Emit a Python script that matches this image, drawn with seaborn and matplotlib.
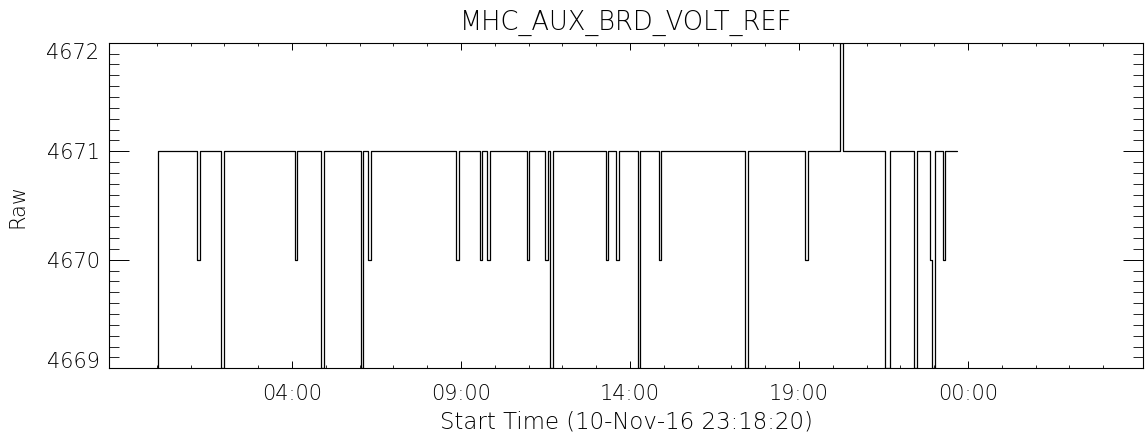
import matplotlib
matplotlib.use("Agg")
import matplotlib.pyplot as plt
import seaborn as sns
import pandas as pd
import numpy as np
from matplotlib.ticker import FixedLocator

# ---- data (hours after 00:00, value that takes effect at that time) ----
times = [0.00, 0.036, 1.204, 1.278, 1.914, 1.988, 4.098, 4.163, 4.873, 4.947,
         6.041, 6.109, 6.257, 6.337, 8.852, 8.932, 9.553, 9.630, 9.778, 9.858,
         10.944, 11.021, 11.494, 11.565, 11.648, 11.722, 13.281, 13.358, 13.595, 13.675,
         14.228, 14.305, 14.849, 14.926, 17.417, 17.491, 19.178, 19.266, 20.213, 20.293,
         21.544, 21.692, 22.402, 22.482, 22.876, 22.944, 23.024, 23.251, 23.328, 23.666]
values = [4669, 4671, 4670, 4671, 4669, 4671, 4670, 4671, 4669, 4671,
          4669, 4671, 4670, 4671, 4670, 4671, 4670, 4671, 4670, 4671,
          4670, 4671, 4670, 4671, 4669, 4671, 4670, 4671, 4670, 4671,
          4669, 4671, 4670, 4671, 4669, 4671, 4670, 4671, 4672, 4671,
          4669, 4671, 4669, 4671, 4670, 4669, 4671, 4670, 4671, 4671]

xtick_pos = [4, 9, 14, 19, 24]
xtick_labels = ["04:00", "09:00", "14:00", "19:00", "00:00"]
ytick_pos = [4669, 4670, 4671, 4672]
title = "MHC_AUX_BRD_VOLT_REF"
xlabel = "Start Time (10-Nov-16 23:18:20)"
ylabel = "Raw"

sns.set_theme(style="white")
plt.rcParams["font.family"] = ["DejaVu Sans"]
plt.rcParams["text.color"] = "black"
plt.rcParams["axes.labelcolor"] = "black"

fig = plt.figure(figsize=(11.47, 4.38), dpi=100)
ax = fig.add_axes([0.0953, 0.1591, 0.9012, 0.7434])

df = pd.DataFrame({"t": times, "v": values})
sns.lineplot(data=df, x="t", y="v", drawstyle="steps-post", color="black",
             linewidth=0.9, estimator=None, sort=False, ax=ax, clip_on=True)

ax.set_xlim(-1.405, 29.18)
ax.set_ylim(4669, 4672)

ax.set_xticks(xtick_pos)
ax.set_xticklabels(xtick_labels)
ax.xaxis.set_minor_locator(FixedLocator(list(range(0, 29))))
ax.set_yticks(ytick_pos)
ax.set_yticklabels([str(v) for v in ytick_pos])
ax.yaxis.set_minor_locator(FixedLocator(list(np.arange(4669, 4672.001, 0.1))))

for s in ax.spines.values():
    s.set_visible(True)
    s.set_color("black")
    s.set_linewidth(0.8)

ax.tick_params(axis="x", which="major", direction="in", length=5, width=0.7,
               top=True, bottom=True, labelsize=15, pad=11, colors="black")
ax.tick_params(axis="x", which="minor", direction="in", length=2.5, width=0.7,
               top=True, bottom=True)
ax.tick_params(axis="y", which="major", direction="in", length=14.4, width=0.7,
               left=True, right=True, labelsize=15, pad=7, colors="black")
ax.tick_params(axis="y", which="minor", direction="in", length=7.2, width=0.7,
               left=True, right=True)

ylabs = ax.get_yticklabels()
ylabs[0].set_va("baseline")
ylabs[-1].set_va("top")

for lab in ax.get_xticklabels() + ax.get_yticklabels():
    lab.set_fontweight("light")
    lab.set_color("black")

ax.set_title(title, fontsize=18.5, pad=9.0, fontweight="light", color="black")
ax.set_xlabel(xlabel, fontsize=16.5, labelpad=5, fontweight="light", color="black")
ax.set_ylabel(ylabel, fontsize=15, labelpad=14, fontweight="light", color="black")
ax.grid(False)

fig.savefig("out.png", dpi=100, facecolor="white")
